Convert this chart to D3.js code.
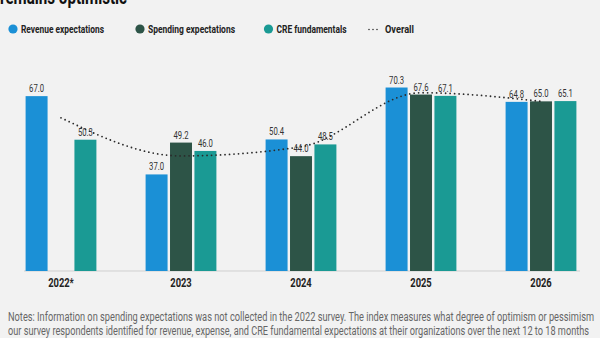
<!DOCTYPE html>
<html><head><meta charset="utf-8">
<script src="https://cdn.jsdelivr.net/npm/d3@7"></script>
<style>
html,body{margin:0;padding:0;background:#f2f2f2;}
svg{display:block;}
</style></head>
<body><svg id="c" width="600" height="338"></svg>
<script>
const years = ["2022*", "2023", "2024", "2025", "2026"];
const seriesNames = ["Revenue expectations", "Spending expectations", "CRE fundamentals"];
const revenue = [67.0, 37.0, 50.4, 70.3, 64.8];
const spending = [null, 49.2, 44.0, 67.6, 65.0];
const cre = [50.3, 46.0, 48.5, 67.1, 65.1];
const overall = [58.7, 44.1, 47.6, 68.3, 65.0];
const colors = ["#1b90d6", "#2d5447", "#1a9a94"];
const notes = [
  "Notes: Information on spending expectations was not collected in the 2022 survey. The index measures what degree of optimism or pessimism",
  "our survey respondents identified for revenue, expense, and CRE fundamental expectations at their organizations over the next 12 to 18 months"
];

const FONT = "Roboto,'Liberation Sans',sans-serif";
const svg = d3.select("#c");
const values = [revenue, spending, cre];

function squeeze(sel, f) {
  sel.each(function() {
    const w = this.getComputedTextLength();
    d3.select(this).attr("textLength", w * f).attr("lengthAdjust", "spacingAndGlyphs");
  });
}

const x = d3.scaleBand().domain(years).range([1, 601]).paddingInner(0.41).paddingOuter(0.205);
const xs = d3.scaleBand().domain(seriesNames).range([0, x.bandwidth()]).paddingInner(0.1);
const y = d3.scaleLinear().domain([0, 100]).range([271, 10]);

// title (cut off at top edge, as in the source)
svg.append("text").attr("x", 0).attr("y", 4)
  .attr("font-family", FONT).attr("font-weight", "bold").attr("font-size", 20)
  .attr("fill", "#111").attr("textLength", 127).attr("lengthAdjust", "spacingAndGlyphs")
  .text("remains optimistic");

// legend
const lg = svg.append("g").attr("font-family", FONT).attr("font-size", 11).attr("font-weight", "bold").attr("fill", "#222");
const legendX = [13, 140, 268.5];
const legendW = [83, 87, 70];
seriesNames.forEach((s, i) => {
  lg.append("circle").attr("cx", legendX[i]).attr("cy", 29).attr("r", 4.6).attr("fill", colors[i]);
  lg.append("text").attr("x", legendX[i] + 8).attr("y", 29).attr("dy", "0.35em")
    .attr("textLength", legendW[i]).attr("lengthAdjust", "spacingAndGlyphs").text(s);
});
lg.append("line").attr("x1", 369).attr("x2", 379).attr("y1", 29.5).attr("y2", 29.5)
  .attr("stroke", "#333").attr("stroke-width", 1.6).attr("stroke-linecap", "round").attr("stroke-dasharray", "0,4");
lg.append("text").attr("x", 385).attr("y", 29).attr("dy", "0.35em")
  .attr("textLength", 29).attr("lengthAdjust", "spacingAndGlyphs").text("Overall");

// baseline
svg.append("line").attr("x1", 24).attr("x2", 580).attr("y1", y(0)).attr("y2", y(0))
  .attr("stroke", "#cfcfcf").attr("stroke-width", 1);

// bars
const groups = svg.append("g").selectAll("g").data(years).join("g")
  .attr("transform", d => `translate(${x(d)},0)`);
groups.each(function(yr, yi) {
  const g = d3.select(this);
  seriesNames.forEach((s, si) => {
    const v = values[si][yi];
    if (v == null) return;
    g.append("rect").attr("x", xs(s)).attr("width", xs.bandwidth())
      .attr("y", y(v)).attr("height", y(0) - y(v)).attr("fill", colors[si]);
    g.append("text").attr("x", xs(s) + xs.bandwidth() / 2).attr("y", y(v) - 4)
      .attr("text-anchor", "middle").attr("font-family", FONT).attr("font-size", 11)
      .attr("fill", "#333").attr("textLength", 15).attr("lengthAdjust", "spacingAndGlyphs")
      .text(d3.format(".1f")(v));
  });
});

// overall line
const line = d3.line().x((d, i) => x(years[i]) + x.bandwidth() / 2).y(d => y(d)).curve(d3.curveMonotoneX);
svg.append("path").datum(overall).attr("d", line).attr("fill", "none")
  .attr("stroke", "#2a2a2a").attr("stroke-width", 1.8).attr("stroke-linecap", "round")
  .attr("stroke-dasharray", "0,4.5");

// x axis labels
const xAxis = d3.axisBottom(x).tickSize(0).tickPadding(7);
const ax = svg.append("g").attr("transform", `translate(0,${y(0)})`).call(xAxis);
ax.select(".domain").remove();
ax.selectAll("text").attr("font-family", FONT).attr("font-size", 12).attr("font-weight", "bold").attr("fill", "#222")
  .call(squeeze, 0.78);

// notes
notes.forEach((t, i) => {
  svg.append("text").attr("x", 8).attr("y", 317 + i * 14).attr("dy", "0.35em")
    .attr("font-family", FONT).attr("font-size", 12).attr("fill", "#666")
    .attr("textLength", i === 0 ? 586 : 581).attr("lengthAdjust", "spacingAndGlyphs")
    .text(t);
});
</script></body></html>
